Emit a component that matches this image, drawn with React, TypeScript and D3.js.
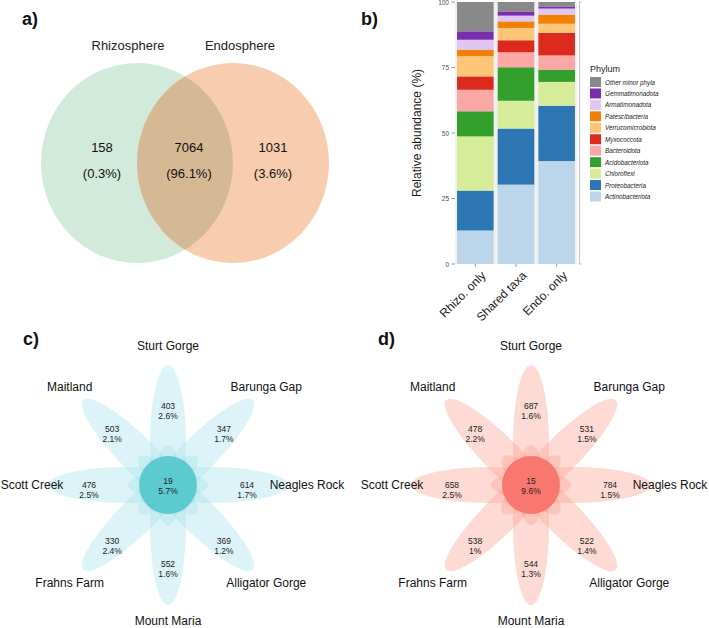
import React from "react";
import * as d3 from "d3";

// ---------- Data ----------
const vennSets = ["Rhizosphere", "Endosphere"];
const vennCounts = [158, 7064, 1031];
const vennPercents = ["(0.3%)", "(96.1%)", "(3.6%)"];

const barCategories = ["Rhizo. only", "Shared taxa", "Endo. only"];
// bottom-to-top stacking order
const phyla = [
  "Actinobacteriota",
  "Proteobacteria",
  "Chloroflexi",
  "Acidobacteriota",
  "Bacteroidota",
  "Myxococcota",
  "Verrucomicrobiota",
  "Patescibacteria",
  "Armatimonadota",
  "Gemmatimonadota",
  "Other minor phyla",
];
const phylaColors = [
  "#BBD5EA",
  "#2C77B3",
  "#D6EC98",
  "#33A02C",
  "#FBA7A6",
  "#DC2A1F",
  "#FDC676",
  "#F27F06",
  "#E0C6F0",
  "#7A2DAC",
  "#898989",
];
const rhizoOnly = [12.8, 15.2, 20.7, 9.6, 8.2, 5.1, 7.7, 2.5, 3.8, 3.2, 11.2];
const sharedTaxa = [30.3, 21.4, 10.6, 12.8, 5.7, 4.6, 4.7, 2.5, 2.2, 1.6, 3.6];
const endoOnly = [39.3, 21.1, 9.1, 4.7, 5.4, 8.6, 3.5, 3.5, 2.3, 0.8, 1.7];
const yTicks = [0, 25, 50, 75, 100];

const sites = [
  "Sturt Gorge",
  "Barunga Gap",
  "Neagles Rock",
  "Alligator Gorge",
  "Mount Maria",
  "Frahns Farm",
  "Scott Creek",
  "Maitland",
];
const rhizoCounts = [403, 347, 614, 369, 552, 330, 476, 503];
const rhizoPct = ["2.6%", "1.7%", "1.7%", "1.2%", "1.6%", "2.4%", "2.5%", "2.1%"];
const rhizoCore = ["19", "5.7%"];
const endoCounts = [687, 531, 784, 522, 544, 538, 658, 478];
const endoPct = ["1.6%", "1.5%", "1.5%", "1.4%", "1.3%", "1%", "2.5%", "2.2%"];
const endoCore = ["15", "9.6%"];

const FONT = "'Liberation Sans', Arial, Helvetica, sans-serif";

function Venn() {
  const cy = 163;
  const cxL = 137;
  const cxR = 233;
  const rx = 96;
  const ry = 100;
  const xs = [102, 189, 273];
  return (
    <g fontFamily={FONT}>
      <defs>
        <clipPath id="leftClip">
          <ellipse cx={cxL} cy={cy} rx={rx} ry={ry} />
        </clipPath>
      </defs>
      <ellipse cx={cxL} cy={cy} rx={rx} ry={ry} fill="#D2EADB" />
      <ellipse cx={cxR} cy={cy} rx={rx} ry={ry} fill="#F8CCAE" />
      <ellipse cx={cxR} cy={cy} rx={rx} ry={ry} fill="#D5B995" clipPath="url(#leftClip)" />
      <text x={128} y={45} fontSize={13} textAnchor="middle" dominantBaseline="central" fill="#222">
        {vennSets[0]}
      </text>
      <text x={240} y={45} fontSize={13} textAnchor="middle" dominantBaseline="central" fill="#222">
        {vennSets[1]}
      </text>
      {vennCounts.map((c, i) => (
        <g key={i}>
          <text x={xs[i]} y={147} fontSize={13} textAnchor="middle" dominantBaseline="central" fill="#111">
            {c}
          </text>
          <text x={xs[i]} y={173} fontSize={13} textAnchor="middle" dominantBaseline="central" fill="#111">
            {vennPercents[i]}
          </text>
        </g>
      ))}
    </g>
  );
}

function Bars() {
  const x = d3
    .scaleBand<string>()
    .domain(barCategories)
    .range([455, 577])
    .paddingInner(0.1)
    .paddingOuter(0.05);
  const y = d3.scaleLinear().domain([0, 100]).range([264, 2]);
  const seriesVals = [rhizoOnly, sharedTaxa, endoOnly];
  const rows = barCategories.map((c, i) => {
    const r: any = { cat: c };
    phyla.forEach((p, j) => (r[p] = seriesVals[i][j]));
    return r;
  });
  const stack = d3.stack<any>().keys(phyla)(rows);
  return (
    <g fontFamily={FONT}>
      <rect x={455} y={2} width={122} height={262} fill="#F0F0F0" />
      {stack.map((layer, j) =>
        layer.map((d, i) => (
          <rect
            key={`${j}-${i}`}
            x={x(barCategories[i])}
            y={y(Math.min(d[1], 100))}
            width={x.bandwidth()}
            height={y(d[0]) - y(Math.min(d[1], 100))}
            fill={phylaColors[j]}
          />
        ))
      )}
      {yTicks.map((t) => (
        <g key={t}>
          <line x1={451.5} x2={455} y1={y(t)} y2={y(t)} stroke="#555" strokeWidth={0.6} />
          <text x={449} y={y(t)} fontSize={6.5} textAnchor="end" dominantBaseline="central" fill="#4D4D4D">
            {t}
          </text>
        </g>
      ))}
      {barCategories.map((c) => {
        const cx = (x(c) as number) + x.bandwidth() / 2;
        return (
          <g key={c}>
            <line x1={cx} x2={cx} y1={264} y2={267} stroke="#555" strokeWidth={0.6} />
            <text
              transform={`translate(${cx + 5},${270}) rotate(-45)`}
              fontSize={12}
              textAnchor="end"
              dominantBaseline="hanging"
              fill="#1a1a1a"
            >
              {c}
            </text>
          </g>
        );
      })}
      {/* right bracket */}
      <line x1={579.5} x2={579.5} y1={2} y2={264} stroke="#999" strokeWidth={0.6} />
      <line x1={579.5} x2={582} y1={2} y2={2} stroke="#999" strokeWidth={0.6} />
      <line x1={579.5} x2={582} y1={264} y2={264} stroke="#999" strokeWidth={0.6} />
      <text
        transform={`translate(417,${133}) rotate(-90)`}
        fontSize={12}
        textAnchor="middle"
        dominantBaseline="central"
        fill="#1a1a1a"
      >
        Relative abundance (%)
      </text>
      {/* legend */}
      <text x={590} y={69} fontSize={9} dominantBaseline="central" fill="#1a1a1a">
        Phylum
      </text>
      {phyla
        .slice()
        .reverse()
        .map((p, k) => {
          const j = phyla.length - 1 - k;
          const ky = 77 + k * 11.45;
          return (
            <g key={p}>
              <rect x={590} y={ky} width={11} height={10} fill={phylaColors[j]} />
              <text
                x={605}
                y={ky + 5}
                fontSize={6.3}
                fontStyle="italic"
                dominantBaseline="central"
                fill="#1a1a1a"
              >
                {p}
              </text>
            </g>
          );
        })}
    </g>
  );
}

function Flower(props: {
  cx: number;
  cy: number;
  counts: number[];
  pcts: string[];
  core: string[];
  petalFill: string;
  coreFill: string;
}) {
  const { cx, cy, counts, pcts, core, petalFill, coreFill } = props;
  const n = sites.length;
  const angle = d3
    .scaleLinear()
    .domain([0, n])
    .range([90, 90 - 360]); // degrees, clockwise from top
  const unit = 40;
  const labelR = 79;
  const siteR = 139;
  return (
    <g fontFamily={FONT}>
      {sites.map((s, i) => {
        const a = (angle(i) * Math.PI) / 180;
        const ex = cx + unit * Math.cos(a);
        const ey = cy - unit * Math.sin(a);
        return (
          <ellipse
            key={s}
            cx={ex}
            cy={ey}
            rx={80}
            ry={18}
            transform={`rotate(${-angle(i)},${ex},${ey})`}
            fill={petalFill}
            fillOpacity={0.4}
          />
        );
      })}
      <circle cx={cx} cy={cy} r={29} fill={coreFill} />
      <text x={cx} y={cy - 4} fontSize={8.5} textAnchor="middle" dominantBaseline="central" fill="#222">
        {core[0]}
      </text>
      <text x={cx} y={cy + 6} fontSize={8.5} textAnchor="middle" dominantBaseline="central" fill="#222">
        {core[1]}
      </text>
      {sites.map((s, i) => {
        const a = (angle(i) * Math.PI) / 180;
        const lx = cx + labelR * Math.cos(a);
        const ly = cy - labelR * Math.sin(a) + 5;
        let sx = cx + siteR * Math.cos(a);
        const sy = Math.min(cy - siteR * Math.sin(a), 621);
        sx = Math.max(sx, 32);
        return (
          <g key={s}>
            <text x={lx} y={ly - 5} fontSize={8.5} textAnchor="middle" dominantBaseline="central" fill="#222">
              {counts[i]}
            </text>
            <text x={lx} y={ly + 5} fontSize={8.5} textAnchor="middle" dominantBaseline="central" fill="#222">
              {pcts[i]}
            </text>
            <text x={sx} y={sy} fontSize={12} textAnchor="middle" dominantBaseline="central" fill="#111">
              {s}
            </text>
          </g>
        );
      })}
    </g>
  );
}

export default function App() {
  return (
    <svg
      width={709}
      height={628}
      viewBox="0 0 709 628"
      style={{ position: "absolute", left: 0, top: 0, background: "#fff" }}
    >
      <rect width={709} height={628} fill="#fff" />
      <Venn />
      <Bars />
      <Flower
        cx={168}
        cy={485}
        counts={rhizoCounts}
        pcts={rhizoPct}
        core={rhizoCore}
        petalFill="#A8E0EA"
        coreFill="#5CCBD0"
      />
      <Flower
        cx={531}
        cy={485}
        counts={endoCounts}
        pcts={endoPct}
        core={endoCore}
        petalFill="#F9A394"
        coreFill="#F8776E"
      />
      <g fontFamily={FONT} fontWeight="bold" fontSize={18} fill="#111">
        <text x={22} y={25}>a)</text>
        <text x={361} y={25}>b)</text>
        <text x={23} y={345}>c)</text>
        <text x={378} y={345}>d)</text>
      </g>
    </svg>
  );
}
